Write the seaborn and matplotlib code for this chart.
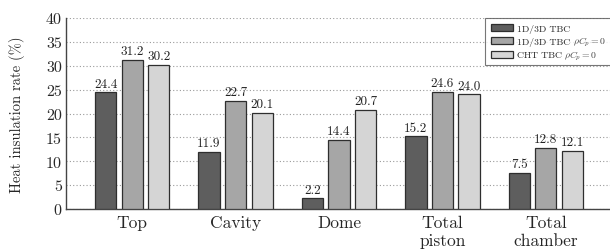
import pandas as pd
import matplotlib
matplotlib.use("Agg")
import matplotlib.pyplot as plt
from matplotlib.transforms import IdentityTransform
import seaborn as sns

categories = ["Top", "Cavity", "Dome", "Total\npiston", "Total\nchamber"]
series_names = ["1D/3D TBC", "1D/3D TBC", "CHT TBC"]
series_math = ["", r"$\rho C_p = 0$", r"$\rho C_p = 0$"]
tbc_1d3d = [24.4, 11.9, 2.2, 15.2, 7.5]
tbc_1d3d_rcp0 = [31.2, 22.7, 14.4, 24.6, 12.8]
cht_rcp0 = [30.2, 20.1, 20.7, 24.0, 12.1]
colors = ["#5e5e5e", "#a6a6a6", "#d5d5d5"]

full_names = [(n + " " + m).strip() for n, m in zip(series_names, series_math)]
df = pd.DataFrame({
    "Region": categories * 3,
    "Case": [s for s in full_names for _ in categories],
    "Rate": tbc_1d3d + tbc_1d3d_rcp0 + cht_rcp0,
})

sns.set_style("white")
plt.rcParams["font.family"] = ["cmr10", "DejaVu Serif"]
plt.rcParams["mathtext.fontset"] = "cm"
plt.rcParams["axes.unicode_minus"] = False

fig = plt.figure(figsize=(6.10, 2.51), dpi=100)
ax = fig.add_axes([66 / 610, 41 / 251, 544 / 610, 191 / 251])

sns.barplot(
    data=df, x="Region", y="Rate", hue="Case",
    palette=colors, width=0.77, gap=0.2,
    edgecolor="#2e2e2e", linewidth=0.9, ax=ax, zorder=3,
)

for cont in ax.containers:
    ax.bar_label(cont, fmt="%.1f", padding=2, fontsize=9.5, color="#222222")

ax.set_ylim(0, 40)
ax.set_yticks(range(0, 41, 5))
ax.set_xlim(-0.64, 4.62)
ax.yaxis.grid(True, linestyle=(0, (1, 2)), color="#9a9a9a", linewidth=0.8, zorder=0)
ax.set_axisbelow(True)
ax.set_xlabel("")
ax.set_ylabel("Heat insulation rate (%)", fontsize=10.5, labelpad=15)
ax.tick_params(axis="x", labelsize=12.5, direction="in", length=3, pad=4, color="#555555")
ax.tick_params(axis="y", labelsize=11.5, length=0, pad=3)
sns.despine(ax=ax, top=True, right=True)
for sp in ["left", "bottom"]:
    ax.spines[sp].set_color("#444444")
    ax.spines[sp].set_linewidth(1.0)

handles, _ = ax.get_legend_handles_labels()
leg = ax.legend(handles, series_names, loc="upper left",
                bbox_to_anchor=(0.770, 0.0, 0.30, 1.0), mode="expand",
                fontsize=7, frameon=True, fancybox=False, edgecolor="#555555",
                borderaxespad=0.0, handlelength=2.25, handleheight=0.72,
                labelspacing=0.45, borderpad=0.6, handletextpad=0.5)
leg.get_frame().set_linewidth(0.8)

# math suffixes drawn after the plain legend labels, kept inside the figure
fig.canvas.draw()
renderer = fig.canvas.get_renderer()
for t, m in zip(leg.get_texts(), series_math):
    if m:
        bb = t.get_window_extent(renderer)
        mt = fig.text(bb.x1 + 2, (bb.y0 + bb.y1) / 2, m, transform=IdentityTransform(),
                      fontsize=7, color="#444444", va="center", ha="left")
        mb = mt.get_window_extent(renderer)
        if mb.x1 > 607:
            mt.set_x(bb.x1 + 2 - (mb.x1 - 607))

fig.savefig("out.png", dpi=100)
